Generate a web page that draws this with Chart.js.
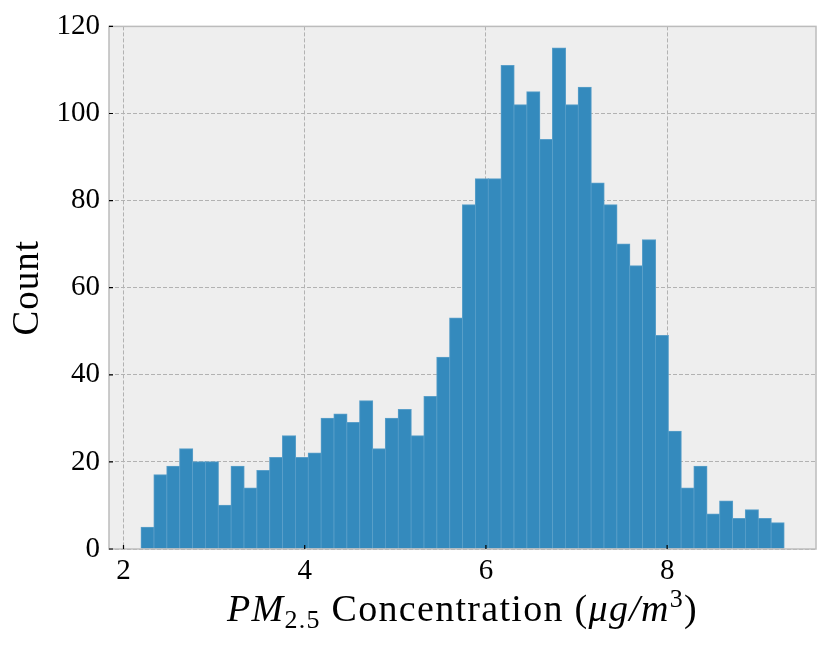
<!DOCTYPE html>
<html>
<head>
<meta charset="utf-8">
<script src="https://cdn.jsdelivr.net/npm/chart.js@4"></script>
<style>
  html, body { margin: 0; padding: 0; background: #fff; }
  #wrap { width: 831px; height: 647px; }
</style>
</head>
<body>
<div id="wrap"><canvas id="histChart" width="831" height="647"></canvas></div>
<script>
// histogram bins: start of first bin and width, counts
const binStart = 2.195;
const binWidth = 0.1419;
const counts = [5, 17, 19, 23, 20, 20, 10, 19, 14, 18,
                21, 26, 21, 22, 30, 31, 29, 34, 23, 30,
                32, 26, 35, 44, 53, 79, 85, 85, 111, 102,
                105, 94, 115, 102, 106, 84, 79, 70, 65, 71,
                49, 27, 14, 19, 8, 11, 7, 9, 7, 6];
const xTicks = [2, 4, 6, 8];
const yTicks = [0, 20, 40, 60, 80, 100, 120];

const serif = "'Liberation Serif', 'DejaVu Serif', serif";

const points = counts.map((c, i) => ({ x: binStart + (i + 0.5) * binWidth, y: c }));

// plot background, border, inward tick marks, axis titles
const decor = {
  id: 'decor',
  beforeDraw(chart) {
    const { ctx, chartArea: a } = chart;
    ctx.save();
    ctx.fillStyle = '#eeeeee';
    ctx.fillRect(a.left, a.top, a.right - a.left, a.bottom - a.top);
    ctx.restore();
  },
  afterDraw(chart) {
    const { ctx, chartArea: a, scales } = chart;
    ctx.save();
    ctx.strokeStyle = '#bcbcbc';
    ctx.lineWidth = 1.5;
    ctx.strokeRect(a.left, a.top, a.right - a.left, a.bottom - a.top);

    ctx.strokeStyle = '#000';
    ctx.lineWidth = 1.2;
    ctx.beginPath();
    xTicks.forEach(v => {
      const px = scales.x.getPixelForValue(v);
      ctx.moveTo(px, a.bottom);
      ctx.lineTo(px, a.bottom - 4);
    });
    yTicks.forEach(v => {
      const py = scales.y.getPixelForValue(v);
      ctx.moveTo(a.left, py);
      ctx.lineTo(a.left + 4, py);
    });
    ctx.stroke();

    // y title
    ctx.fillStyle = '#000';
    ctx.font = '37px ' + serif;
    ctx.letterSpacing = '1px';
    ctx.textAlign = 'center';
    ctx.textBaseline = 'middle';
    ctx.translate(28, (a.top + a.bottom) / 2);
    ctx.rotate(-Math.PI / 2);
    ctx.fillText('Count', 0, 0);
    ctx.setTransform(1, 0, 0, 1, 0, 0);

    // x title with sub/superscripts
    const big = 38, small = 26;
    ctx.letterSpacing = '1.3px';
    const parts = [
      { t: 'PM', f: 'italic ' + big + 'px ' + serif, dy: 0 },
      { t: '2.5', f: small + 'px ' + serif, dy: 7 },
      { t: ' Concentration (', f: big + 'px ' + serif, dy: 0 },
      { t: 'μg/m', f: 'italic ' + big + 'px ' + serif, dy: 0 },
      { t: '3', f: small + 'px ' + serif, dy: -14 },
      { t: ')', f: big + 'px ' + serif, dy: 0 }
    ];
    let total = 0;
    parts.forEach(p => { ctx.font = p.f; p.w = ctx.measureText(p.t).width; total += p.w; });
    let x = (a.left + a.right) / 2 - total / 2;
    ctx.textAlign = 'left';
    ctx.textBaseline = 'alphabetic';
    parts.forEach(p => {
      ctx.font = p.f;
      ctx.fillText(p.t, x, 621 + p.dy);
      x += p.w;
    });
    ctx.restore();
  }
};

new Chart(document.getElementById('histChart').getContext('2d'), {
  type: 'bar',
  data: {
    datasets: [{
      label: 'Count',
      data: points,
      backgroundColor: '#348ABD',
      borderColor: '#5a9fc9',
      borderWidth: 1,
      inflateAmount: 0.6,
      barPercentage: 1,
      categoryPercentage: 1
    }]
  },
  options: {
    responsive: false,
    animation: false,
    layout: { padding: { left: 0, right: 15, top: 23, bottom: 0 } },
    plugins: { legend: { display: false }, tooltip: { enabled: false } },
    scales: {
      x: {
        type: 'linear',
        min: 1.84,
        max: 9.643,
        offset: false,
        z: 1,
        afterBuildTicks: s => { s.ticks = xTicks.map(v => ({ value: v })); },
        afterFit: s => { s.height = 647 - 549; },
        grid: { color: '#b2b2b2', lineWidth: 1, drawTicks: false, offset: false },
        border: { display: false, dash: [4, 2] },
        ticks: { color: '#000', font: { family: serif, size: 29 }, padding: 5, maxRotation: 0 }
      },
      y: {
        min: 0,
        max: 120,
        z: 1,
        afterBuildTicks: s => { s.ticks = yTicks.map(v => ({ value: v })); },
        afterFit: s => { s.width = 109; },
        grid: { color: '#b2b2b2', lineWidth: 1, drawTicks: false },
        border: { display: false, dash: [4, 2] },
        ticks: { color: '#000', font: { family: serif, size: 29 }, padding: 9 }
      }
    }
  },
  plugins: [decor]
});
</script>
</body>
</html>
